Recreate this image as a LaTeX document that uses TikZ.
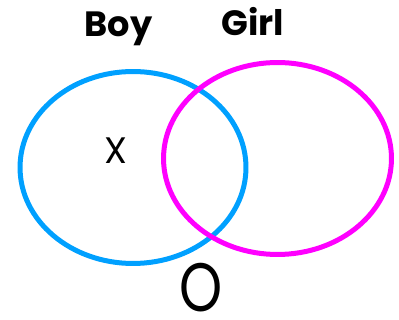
\documentclass[tikz,border=0pt]{standalone}
\usepackage{fontspec}
\setmainfont{Poppins}
\usetikzlibrary{positioning, shapes.geometric}
\definecolor{boyblue}{RGB}{0,160,255}
\definecolor{girlpink}{RGB}{255,0,255}

\begin{document}
\begin{tikzpicture}[
            x=0.02cm, y=-0.02cm,
            set/.style={ellipse, draw, line width=0.1cm, inner sep=0pt, minimum width=4.54cm, minimum height=3.84cm},
            boyset/.style={set, draw=boyblue, minimum width=4.52cm},
            girlset/.style={set, draw=girlpink, minimum width=4.56cm},
            title/.style={anchor=base, font=\fontsize{20}{24}\selectfont\bfseries},
            member/.style={anchor=base, inner sep=0pt}
        ]
            \useasboundingbox (0,0) rectangle (399,320);
            % --- Sets ---
            \node[boyset] (boy) at (133,167.5) {};
            \node[girlset] (girl) at (277.5,158.5) {};

            % --- Labels ---
            \node[title] (boylabel) at (118.5,37) {Boy};
            \node[title] (girllabel) at (253,36) {Girl};
            \node[member, font=\fontsize{21}{24}\selectfont] (xmark) at (116,164) {X};
            \node[member, xscale=0.8, font=\fontsize{39}{40}\selectfont] (omark) at (201,312) {O};
        \end{tikzpicture}
\end{document}
